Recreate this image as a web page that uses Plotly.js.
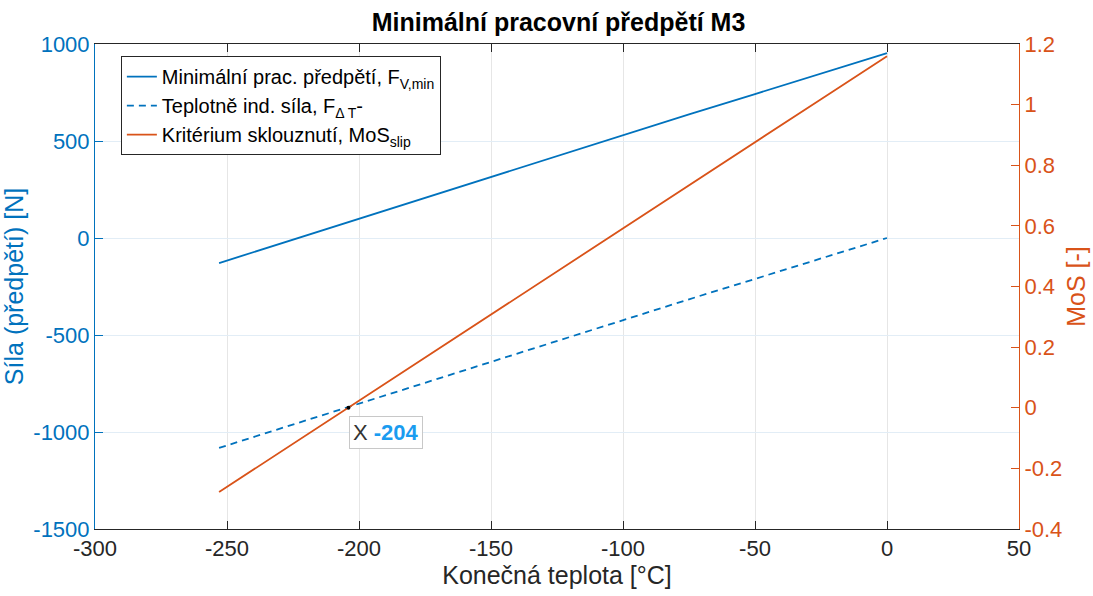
<!DOCTYPE html>
<html><head><meta charset="utf-8">
<script src="https://cdn.plot.ly/plotly-3.0.1.min.js"></script>
<style>body{margin:0;background:#fff}#chart{width:1093px;height:596px}</style>
</head><body><div id="chart"></div>
<script>
// Temperature (x) values
const temperature = [-253, -230, -200, -175, -150, -125, -100, -75, -50, -25, 0];
// Minimal working preload F_V,min [N]
const fVmin = [-129, -30, 100, 205, 314, 420, 531, 637, 742, 848, 953];
// Thermally induced force F_ΔT [N]
const fDeltaT = [-1082, -983, -853, -748, -639, -533, -422, -316, -211, -105, 0];
// Slip criterion MoS_slip [-]
const mosSlip = [-0.278, -0.147, 0.023, 0.165, 0.307, 0.449, 0.591, 0.733, 0.876, 1.018, 1.160];
// Data tip
const tipX = [-204];
const tipY = [0];
// Tick labels
const xTickVals = [-300, -250, -200, -150, -100, -50, 0, 50];
const xTickText = ['-300', '-250', '-200', '-150', '-100', '-50', '0', '50'];
const yTickVals = [-1500, -1000, -500, 0, 500, 1000];
const yTickText = ['-1500', '-1000', '-500', '0', '500', '1000'];
const y2TickVals = [-0.4, -0.2, 0, 0.2, 0.4, 0.6, 0.8, 1, 1.2];
const y2TickText = ['-0.4', '-0.2', '0', '0.2', '0.4', '0.6', '0.8', '1', '1.2'];

const blue = '#0072BD', orange = '#D95319', dark = '#262626';
const font = 'Liberation Sans, Arial, sans-serif';

const traces = [
  {x: temperature, y: fVmin, type: 'scatter', mode: 'lines', line: {color: blue, width: 1.8},
   name: 'Minimální prac. předpětí, F<sub>V,min</sub>', yaxis: 'y'},
  {x: temperature, y: fDeltaT, type: 'scatter', mode: 'lines', line: {color: blue, width: 1.8, dash: '7px,5px'},
   name: 'Teplotně ind. síla, F<sub>Δ T</sub>-', yaxis: 'y'},
  {x: temperature, y: mosSlip, type: 'scatter', mode: 'lines', line: {color: orange, width: 1.8},
   name: 'Kritérium sklouznutí, MoS<sub>slip</sub>', yaxis: 'y2'},
  {x: tipX, y: tipY, type: 'scatter', mode: 'markers', marker: {color: '#000', size: 4},
   showlegend: false, yaxis: 'y2', hoverinfo: 'skip'}
];

const layout = {
  width: 1093, height: 596,
  margin: {l: 95, r: 74, t: 44, b: 67},
  paper_bgcolor: '#fff', plot_bgcolor: '#fff',
  font: {family: font, size: 21, color: dark},
  title: {text: '<b>Minimální pracovní předpětí M3</b>', x: 0.511, xanchor: 'center', y: 0.963, yanchor: 'middle',
          font: {family: font, size: 25, color: '#000'}},
  showlegend: true,
  legend: {x: 0.028, y: 0.975, xanchor: 'left', yanchor: 'top', bgcolor: '#fff',
           bordercolor: dark, borderwidth: 1, font: {family: font, size: 20, color: '#000'},
           itemwidth: 30, tracegroupgap: 0},
  xaxis: {range: [-300, 50], tickmode: 'array', tickvals: xTickVals, ticktext: xTickText,
          ticks: 'inside', ticklen: 8, tickcolor: dark,
          showline: true, linecolor: dark, linewidth: 1, mirror: 'ticks', zeroline: false,
          showgrid: true, gridcolor: '#e6e6e6', tickfont: {size: 22, color: dark},
          title: {text: 'Konečná teplota [°C]', font: {size: 25, color: dark}, standoff: 4}},
  yaxis: {range: [-1500, 1000], tickmode: 'array', tickvals: yTickVals, ticktext: yTickText,
          ticks: 'inside', ticklen: 8, tickcolor: blue,
          showline: true, linecolor: blue, linewidth: 1, zeroline: false,
          showgrid: true, gridcolor: '#e2edf6', tickfont: {size: 22, color: blue},
          title: {text: 'Síla (předpětí) [N]', font: {size: 25, color: blue}, standoff: 6}},
  yaxis2: {range: [-0.4, 1.2], tickmode: 'array', tickvals: y2TickVals, ticktext: y2TickText,
           overlaying: 'y', side: 'right', ticks: 'inside', ticklen: 8,
           tickcolor: orange, showline: true, linecolor: orange, linewidth: 1, zeroline: false,
           showgrid: false, tickfont: {size: 22, color: orange},
           title: {text: 'MoS [-]', font: {size: 25, color: orange}, standoff: 6}},
  annotations: [{
    x: tipX[0], y: tipY[0], xref: 'x', yref: 'y2', showarrow: false,
    xanchor: 'left', yanchor: 'top', xshift: 1, yshift: -8,
    text: "X <b><span style='color:#1a9cf0'>" + tipX[0] + "</span></b>",
    font: {family: font, size: 22, color: '#333'},
    bgcolor: 'rgba(255,255,255,0.9)', bordercolor: '#c8c8c8', borderwidth: 1, borderpad: 3
  }]
};

Plotly.newPlot('chart', traces, layout, {displayModeBar: false, staticPlot: true});
</script>
</body></html>
